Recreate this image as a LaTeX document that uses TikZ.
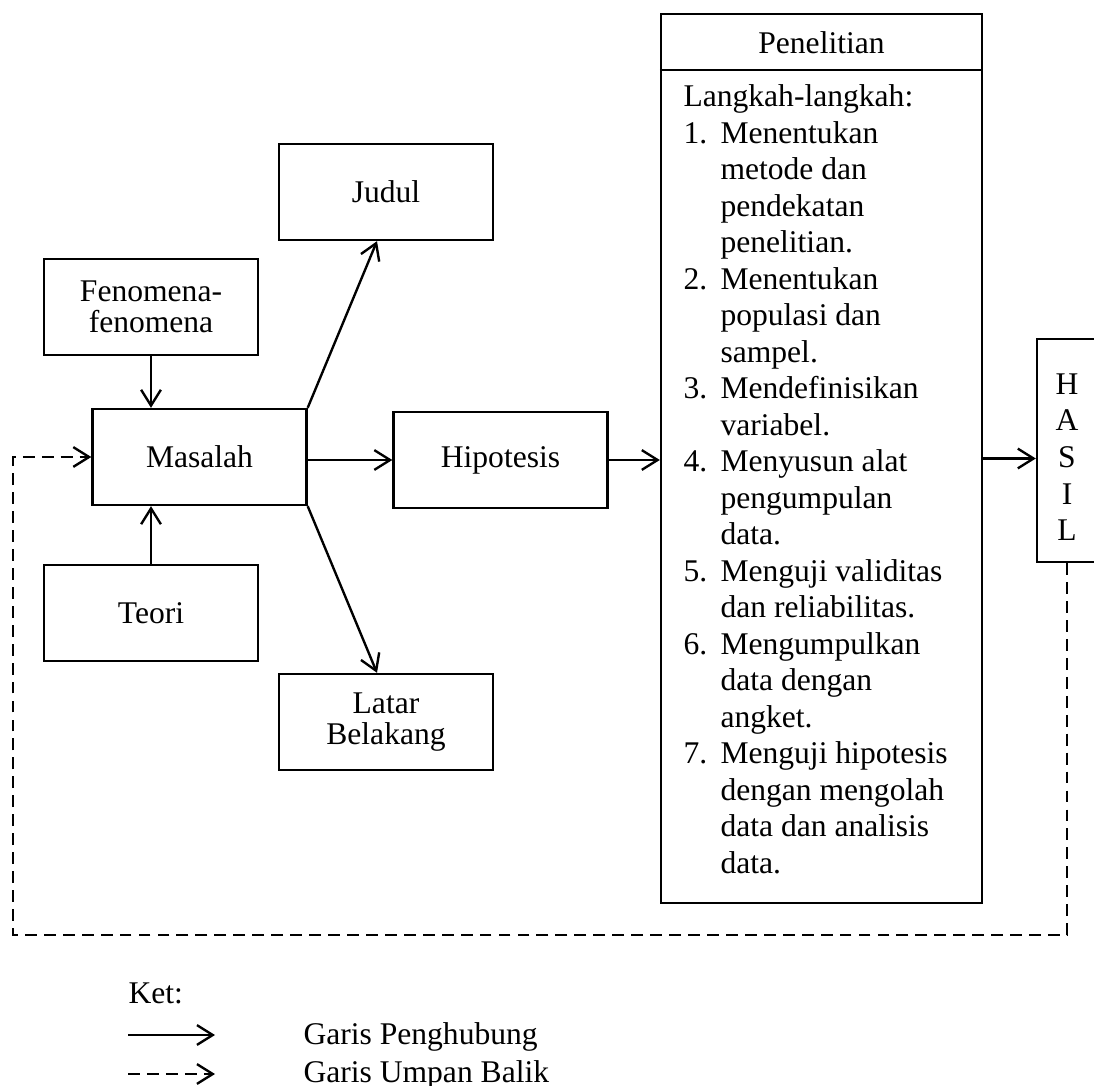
\documentclass[tikz,border=0pt]{standalone}
\usepackage{fontspec}
\setmainfont{Liberation Serif}
\usetikzlibrary{arrows.meta,calc}
\newlength{\pxd}\setlength{\pxd}{0.38pt}
\newcommand{\myfont}{\fontsize{12}{13.87}\selectfont}
\newcommand{\boxfont}{\fontsize{12}{11.8}\selectfont}
\newcommand{\myitm}[1]{\makebox[37\pxd][l]{#1}}
\newcommand{\myind}{\hspace*{37\pxd}}
\begin{document}
\begin{tikzpicture}[x=0.38pt,y=-0.38pt,
  box/.style={draw, line width=0.9pt, minimum width=214*\pxd, minimum height=96*\pxd, inner sep=0pt, align=center, font=\boxfont},
  arr/.style={line width=0.9pt, -{Straight Barb[length=6pt,width=7.5pt,line width=0.9pt]}},
  dasharr/.style={arr, dash pattern=on 4.5pt off 2.7pt},
  txt/.style={font=\myfont, inner sep=0pt}
]
\path[use as bounding box, clip] (0,0) rectangle (1094,1086);

\node[box] (judul) at (386,192) {Judul};
\node[box] (fen) at (151,307) {Fenomena-\\fenomena};
\node[box] (mas) at (199.5,457) {Masalah};
\node[box] (hip) at (500.5,460) {Hipotesis};
\node[box] (teori) at (151,613) {Teori};
\node[box] (latar) at (386,722) {Latar\\Belakang};

\node[draw, line width=0.9pt, minimum width=321*\pxd, minimum height=889*\pxd, inner sep=0pt] (pen) at (821.5,458.5) {};
\draw[line width=0.9pt] ([yshift=-57*\pxd]pen.north west) -- ([yshift=-57*\pxd]pen.north east);
\node[txt] (pentitle) at (821.5,43) {Penelitian};
\node[txt, anchor=north west, align=left] (steps) at (683,84.5) {Langkah-langkah:\\
\myitm{1.}Menentukan\\
\myind metode dan\\
\myind pendekatan\\
\myind penelitian.\\
\myitm{2.}Menentukan\\
\myind populasi dan\\
\myind sampel.\\
\myitm{3.}Mendefinisikan\\
\myind variabel.\\
\myitm{4.}Menyusun alat\\
\myind pengumpulan\\
\myind data.\\
\myitm{5.}Menguji validitas\\
\myind dan reliabilitas.\\
\myitm{6.}Mengumpulkan\\
\myind data dengan\\
\myind angket.\\
\myitm{7.}Menguji hipotesis\\
\myind dengan mengolah\\
\myind data dan analisis\\
\myind data.};

\node[draw, line width=0.9pt, minimum width=60*\pxd, minimum height=223*\pxd, inner sep=0pt, align=center, font=\myfont] (hasil) at (1067,450.5) {\rule{0pt}{34\pxd}H\\A\\S\\I\\L};

\draw[arr] (fen.south) -- (fen.south |- mas.north);
\draw[arr] (teori.north) -- (teori.north |- mas.south);
\draw[arr] (mas.north east) -- ([xshift=-9*\pxd]judul.south);
\draw[arr] (mas.south east) -- ([xshift=-9*\pxd]latar.north);
\draw[arr] (mas.east |- hip.west) -- (hip.west);
\draw[arr] (hip.east) -- (hip.east -| pen.west);
\draw[arr] (pen.east) -- (pen.east -| hasil.west);
\coordinate (fbl) at (13,935);
\draw[dasharr] (hasil.south) -- (hasil.south |- fbl) -- (fbl) -- (fbl |- mas.west) -- (mas.west);

\node[txt, anchor=base west] (ket) at (128,1003) {Ket:};
\coordinate (l1a) at (128,1035);
\coordinate (l1b) at (215,1035);
\draw[arr] (l1a) -- (l1b);
\coordinate (l2a) at (128,1074);
\coordinate (l2b) at (215,1074);
\draw[dasharr] (l2a) -- (l2b);
\node[txt, anchor=base west] (g1) at (303,1044) {Garis Penghubung};
\node[txt, anchor=base west] (g2) at (303,1082) {Garis Umpan Balik};
\end{tikzpicture}
\end{document}
